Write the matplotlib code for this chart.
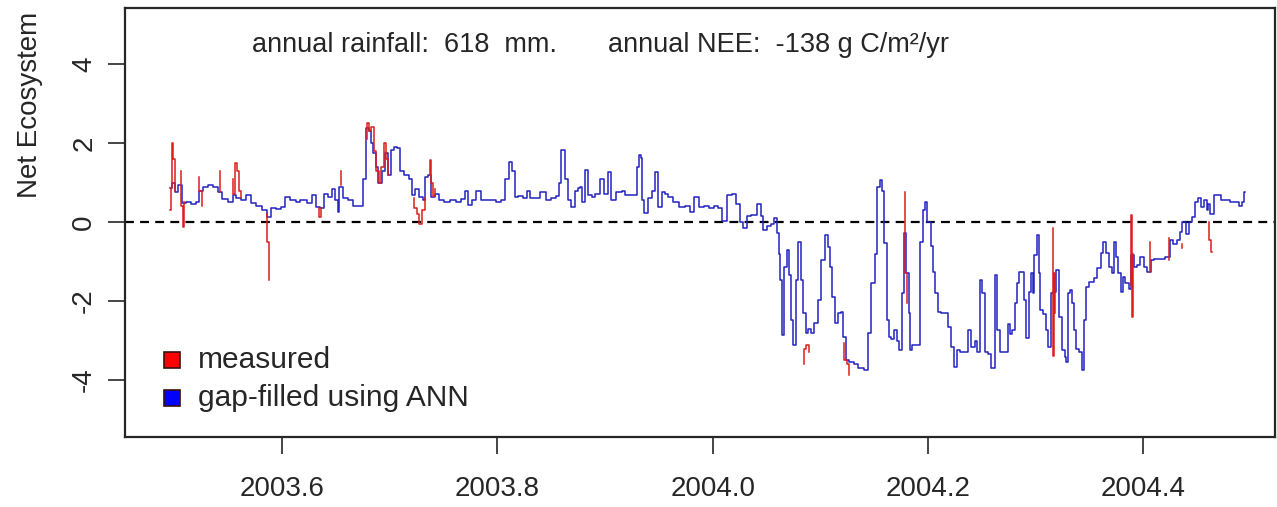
import matplotlib
matplotlib.use("Agg")
import matplotlib.pyplot as plt
import numpy as np
from matplotlib.patches import Rectangle

plt.rcParams["font.family"] = ["Liberation Sans", "DejaVu Sans"]

# gap-filled (ANN) daily NEE: decimal year / value
ann_year = [
    2003.496, 2003.499, 2003.502, 2003.505, 2003.508, 2003.513, 2003.518, 2003.522,
    2003.524, 2003.529, 2003.533, 2003.538, 2003.542, 2003.547, 2003.552, 2003.556,
    2003.559, 2003.564, 2003.569, 2003.573, 2003.578, 2003.584, 2003.587, 2003.592,
    2003.597, 2003.601, 2003.604, 2003.611, 2003.614, 2003.620, 2003.626, 2003.629,
    2003.634, 2003.637, 2003.640, 2003.645, 2003.648, 2003.651, 2003.652, 2003.654,
    2003.659, 2003.663, 2003.669, 2003.674, 2003.676, 2003.679, 2003.682, 2003.683,
    2003.686, 2003.688, 2003.691, 2003.694, 2003.697, 2003.700, 2003.702, 2003.705,
    2003.708, 2003.711, 2003.716, 2003.719, 2003.722, 2003.725, 2003.730, 2003.731,
    2003.734, 2003.737, 2003.740, 2003.744, 2003.747, 2003.753, 2003.759, 2003.765,
    2003.768, 2003.771, 2003.774, 2003.779, 2003.782, 2003.787, 2003.795, 2003.802,
    2003.805, 2003.809, 2003.812, 2003.815, 2003.817, 2003.821, 2003.826, 2003.829,
    2003.832, 2003.836, 2003.843, 2003.847, 2003.852, 2003.856, 2003.858, 2003.861,
    2003.864, 2003.867, 2003.870, 2003.874, 2003.875, 2003.878, 2003.880, 2003.883,
    2003.886, 2003.889, 2003.892, 2003.898, 2003.901, 2003.904, 2003.907, 2003.914,
    2003.917, 2003.921, 2003.928, 2003.931, 2003.932, 2003.934, 2003.935, 2003.938,
    2003.942, 2003.945, 2003.948, 2003.951, 2003.954, 2003.957, 2003.960, 2003.966,
    2003.972, 2003.977, 2003.980, 2003.985, 2003.990, 2003.994, 2004.000, 2004.003,
    2004.007, 2004.011, 2004.016, 2004.020, 2004.023, 2004.027, 2004.030, 2004.033,
    2004.039, 2004.043, 2004.046, 2004.048, 2004.053, 2004.056, 2004.058, 2004.061,
    2004.062, 2004.064, 2004.065, 2004.068, 2004.070, 2004.072, 2004.074, 2004.076,
    2004.078, 2004.081, 2004.083, 2004.085, 2004.088, 2004.090, 2004.093, 2004.096,
    2004.099, 2004.102, 2004.106, 2004.108, 2004.110, 2004.112, 2004.115, 2004.118,
    2004.120, 2004.122, 2004.125, 2004.129, 2004.133, 2004.138, 2004.143, 2004.146,
    2004.149, 2004.152, 2004.154, 2004.157, 2004.158, 2004.161, 2004.163, 2004.164,
    2004.167, 2004.170, 2004.172, 2004.175, 2004.177, 2004.179, 2004.181, 2004.183,
    2004.184, 2004.187, 2004.191, 2004.194, 2004.196, 2004.198, 2004.201, 2004.204,
    2004.206, 2004.208, 2004.211, 2004.214, 2004.217, 2004.220, 2004.222, 2004.226,
    2004.228, 2004.231, 2004.235, 2004.239, 2004.242, 2004.245, 2004.247, 2004.249,
    2004.252, 2004.254, 2004.257, 2004.261, 2004.263, 2004.266, 2004.268, 2004.273,
    2004.275, 2004.277, 2004.280, 2004.282, 2004.284, 2004.286, 2004.288, 2004.290,
    2004.292, 2004.295, 2004.297, 2004.298, 2004.300, 2004.302, 2004.304, 2004.305,
    2004.308, 2004.311, 2004.313, 2004.315, 2004.318, 2004.320, 2004.324, 2004.326,
    2004.328, 2004.329, 2004.331, 2004.333, 2004.334, 2004.337, 2004.339, 2004.342,
    2004.344, 2004.346, 2004.348, 2004.352, 2004.356, 2004.359, 2004.362, 2004.364,
    2004.367, 2004.370, 2004.372, 2004.374, 2004.376, 2004.378, 2004.380, 2004.382,
    2004.385, 2004.388, 2004.390, 2004.393, 2004.396, 2004.399, 2004.402, 2004.406,
    2004.409, 2004.412, 2004.418, 2004.423, 2004.426, 2004.429, 2004.433, 2004.435,
    2004.438, 2004.441, 2004.444, 2004.447, 2004.449, 2004.452, 2004.455, 2004.458,
    2004.460, 2004.461, 2004.464, 2004.467, 2004.471, 2004.474, 2004.488, 2004.491,
    2004.492, 2004.495,
]
ann_nee = [
    0.86, 1.0, 0.75, 0.95, 0.48, 0.5, 0.45, 0.5,
    0.8, 0.9, 0.95, 0.88, 0.77, 0.58, 0.52, 0.68,
    0.62, 0.55, 0.68, 0.48, 0.42, 0.3, 0.13, 0.35,
    0.32, 0.38, 0.63, 0.55, 0.5, 0.55, 0.48, 0.68,
    0.38, 0.35, 0.7, 0.63, 0.85, 0.55, 0.25, 0.9,
    0.6, 0.55, 0.42, 0.4, 1.1, 2.38, 2.3, 2.0,
    1.74, 1.4, 1.0, 1.3, 1.75, 1.19, 1.82, 1.9,
    1.88, 1.3, 1.2, 1.08, 0.68, 0.85, 0.63, 0.55,
    1.14, 1.18, 0.63, 0.72, 0.55, 0.5, 0.55, 0.5,
    0.58, 0.78, 0.43, 0.55, 0.8, 0.55, 0.55, 0.5,
    0.55, 1.1, 1.52, 1.3, 0.63, 0.65, 0.6, 0.78,
    0.6, 0.62, 0.75, 0.55, 0.6, 0.65, 0.98, 1.82,
    1.1, 0.55, 0.38, 0.8, 0.86, 0.9, 0.5, 1.32,
    0.68, 0.63, 0.72, 1.1, 0.72, 1.27, 0.55, 0.76,
    0.8, 0.68, 0.68, 1.4, 1.7, 1.62, 0.55, 0.22,
    0.6, 0.8, 1.27, 0.38, 0.76, 0.7, 0.63, 0.5,
    0.38, 0.42, 0.26, 0.63, 0.38, 0.42, 0.35, 0.4,
    0.35, 0.02, 0.68, 0.72, 0.45, 0.0, -0.15, 0.15,
    0.18, 0.45, 0.15, -0.2, -0.1, -0.05, 0.1, -0.28,
    -0.8, -1.47, -2.86, -1.14, -0.71, -1.35, -2.48, -3.1,
    -1.47, -0.5, -1.47, -2.3, -2.8, -2.7, -2.8, -2.56,
    -1.97, -0.96, -0.33, -0.63, -1.14, -1.9, -2.56, -2.3,
    -2.28, -2.9, -3.5, -3.55, -3.58, -3.7, -3.75, -2.8,
    -1.55, -0.8, 0.9, 1.06, 0.78, -0.53, -2.48, -2.9,
    -2.95, -2.73, -3.0, -3.24, -1.8, -0.28, -1.3, -2.3,
    -3.24, -3.1, -3.1, -0.5, 0.3, 0.5, 0.0, -0.6,
    -1.27, -1.8, -2.27, -2.3, -2.3, -2.65, -3.15, -3.66,
    -3.24, -3.3, -3.28, -2.73, -3.15, -3.0, -3.28, -1.47,
    -1.8, -3.28, -3.35, -3.7, -1.35, -2.73, -3.28, -3.28,
    -2.57, -2.82, -2.73, -2.05, -1.55, -1.26, -1.26, -1.98,
    -2.94, -1.76, -1.3, -1.8, -0.84, -0.33, -1.3, -2.23,
    -2.32, -2.73, -3.15, -1.8, -1.76, -1.2, -2.4, -3.24,
    -3.41, -3.53, -1.8, -1.72, -2.06, -2.73, -3.2, -3.28,
    -3.75, -2.48, -1.64, -1.51, -1.42, -1.17, -0.79, -0.5,
    -0.79, -1.13, -1.3, -0.5, -0.88, -1.3, -1.77, -1.4,
    -1.55, -1.7, -0.84, -1.13, -1.09, -0.88, -1.13, -1.26,
    -0.97, -0.93, -0.93, -0.88, -0.46, -0.55, -0.46, -0.25,
    0.0, -0.3, 0.0, 0.13, 0.51, 0.6, 0.38, 0.55,
    0.3, 0.46, 0.21, 0.68, 0.68, 0.55, 0.51, 0.42,
    0.51, 0.77,
]

# measured NEE where it departs from the ANN line (None = gap)
meas_year = [
    2003.496, 2003.497, 2003.498, 2003.500, 2003.501, None,
    2003.505, 2003.507, 2003.508, 2003.510, None,
    2003.522, 2003.524, 2003.527, None,
    2003.541, 2003.543, None,
    2003.554, 2003.555, 2003.557, 2003.559, 2003.561, 2003.563, None,
    2003.585, 2003.587, 2003.589, None,
    2003.634, 2003.635, 2003.637, None,
    2003.654, 2003.656, None,
    2003.678, 2003.679, 2003.682, 2003.684, 2003.686, 2003.689, 2003.691,
    2003.693, 2003.696, 2003.697, 2003.700, None,
    2003.721, 2003.724, 2003.726, 2003.728, 2003.731, 2003.734, None,
    2003.736, 2003.738, 2003.739, 2003.741, 2003.743, None,
    2004.084, 2004.086, 2004.088, 2004.091, None,
    2004.121, 2004.124, 2004.126, 2004.128, None,
    2004.178, 2004.180, 2004.182, None,
    2004.316, 2004.317, 2004.318, 2004.319, None,
    2004.388, 2004.389, 2004.390, 2004.391, None,
    2004.406, 2004.407, None,
    2004.423, 2004.425, None,
    2004.436, 2004.437, None,
    2004.460, 2004.462, 2004.464,
]
meas_nee = [
    0.3, 0.86, 2.0, 1.6, 0.8, None,
    1.3, 0.4, -0.13, 0.5, None,
    1.14, 0.8, 0.4, None,
    1.3, 0.75, None,
    1.1, 0.7, 1.5, 1.3, 0.8, 0.6, None,
    0.2, -0.5, -1.47, None,
    0.35, 0.13, 0.35, None,
    1.3, 0.95, None,
    2.1, 2.5, 2.3, 2.4, 1.8, 1.3, 1.0,
    1.4, 2.0, 1.6, 1.2, None,
    0.6, 0.35, 0.2, -0.05, 0.3, 0.6, None,
    1.2, 1.57, 1.0, 0.65, 0.85, None,
    -3.6, -3.2, -3.1, -3.3, None,
    -3.05, -3.5, -3.6, -3.87, None,
    0.75, -1.3, -2.05, None,
    -0.15, -3.4, -1.3, -2.3, None,
    -1.6, 0.18, -2.4, -0.8, None,
    -0.5, -1.26, None,
    -0.4, -0.97, None,
    -0.55, -0.65, None,
    0.0, -0.45, -0.76,
]

x_ticks = [2003.6, 2003.8, 2004.0, 2004.2, 2004.4]
y_ticks = [-4, -2, 0, 2, 4]
header_left = "annual rainfall:  618  mm."
header_right = "annual NEE:  -138 g C/m\u00b2/yr"
legend_labels = ["measured", "gap-filled using ANN"]
legend_colors = ["#ff0000", "#0000ff"]

W, H = 1277, 507
fig = plt.figure(figsize=(W / 100, H / 100), dpi=100)
ax = fig.add_axes([125 / W, 1 - 437 / H, 1150 / W, 429 / H])

mx = np.array([np.nan if v is None else v for v in meas_year])
my = np.array([np.nan if v is None else v for v in meas_nee])

# daily series drawn as stairs, like the original
ax.plot(ann_year, ann_nee, color="#2222c0", lw=1.1, drawstyle="steps-mid", zorder=2)
ax.plot(mx, my, color="#dd1c1c", lw=1.1, drawstyle="steps-mid", zorder=3)
ax.axhline(0, color="black", lw=1.6, linestyle=(0, (4, 2.8)), zorder=1)

ax.set_xlim(2003.454, 2004.5225)
ax.set_ylim(-5.44, 5.42)
ax.set_xticks(x_ticks)
ax.set_xticklabels([f"{t:.1f}" for t in x_ticks])
ax.set_yticks(y_ticks)
ax.set_yticklabels([str(t) for t in y_ticks], rotation=90, va="center")

for s in ax.spines.values():
    s.set_linewidth(1.6)
    s.set_color("#262626")
ax.tick_params(axis="x", length=12, width=1.2, pad=16, labelsize=20, colors="#262626")
ax.tick_params(axis="y", length=12, width=1.2, pad=8, labelsize=20, colors="#262626")

fig.text(30 / W, 1 - 198 / H, "Net Ecosystem", rotation=90, ha="center", va="bottom",
         fontsize=20, color="#262626")

ax.text(252 / W, 1 - 45 / H, header_left, transform=fig.transFigure, ha="left",
        va="center", fontsize=19.5, color="#262626")
ax.text(608 / W, 1 - 45 / H, header_right, transform=fig.transFigure, ha="left",
        va="center", fontsize=19.5, color="#262626")

# legend drawn by hand like R's legend()
for i, (lab, col) in enumerate(zip(legend_labels, legend_colors)):
    cy = 360 + i * 38
    fig.add_artist(Rectangle((164 / W, 1 - (cy + 8) / H), 16 / W, 16 / H,
                             transform=fig.transFigure, facecolor=col,
                             edgecolor="#3a1010", lw=1.2))
    fig.text(198 / W, 1 - cy / H, lab, ha="left", va="center", fontsize=21.5,
             color="#262626")

fig.savefig("out.png", dpi=100)
